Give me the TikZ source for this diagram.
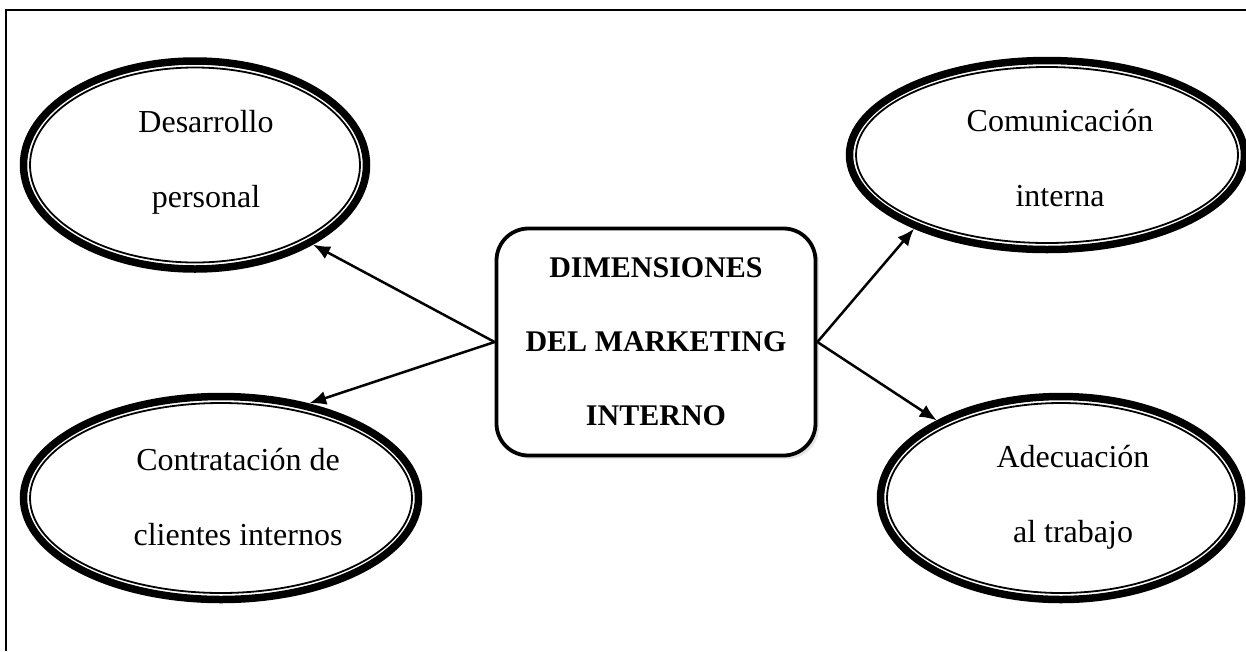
\documentclass[tikz,border=0pt]{standalone}
\usepackage{fontspec}
\setmainfont{Liberation Serif}
\usetikzlibrary{shapes.geometric,arrows.meta,shadows}

\tikzset{
	dimension/.style={ellipse, draw, line width=7.5pt, inner sep=0pt},
	ring/.style={line width=1.8pt},
	dimtext/.style={align=center, font=\fontsize{32}{75}\selectfont},
	core/.style={draw, line width=3.8pt, rounded corners=32pt, minimum width=319pt, minimum height=227pt,
		fill=white, align=center, font=\bfseries\fontsize{30}{74}\selectfont,
		drop shadow={shadow xshift=3.5pt, shadow yshift=-3.5pt, fill=gray!40}},
	link/.style={line width=2.5pt, -{Latex[length=17pt,width=14pt]}}
}

\begin{document}
\begin{tikzpicture}[x=1pt,y=-1pt]
		\useasboundingbox (0,0) rectangle (1246,651);
		
		%frame (only top and left edges shown)
		\draw[line width=2.5pt] (6,651) -- (6,10) -- (1246,10);
		
		%the four dimensions
		\node[dimension, minimum width=343pt, minimum height=208pt] (tl) at (195,165) {};
		\node[dimension, minimum width=395pt, minimum height=189pt] (tr) at (1047,155) {};
		\node[dimension, minimum width=395pt, minimum height=203pt] (bl) at (221,498) {};
		\node[dimension, minimum width=361pt, minimum height=203pt] (br) at (1061,498) {};
		
		%inner thin ring
		\foreach \n/\a/\b in {tl/165/97.5, tr/191/88, bl/191/95, br/174/95}
			\draw[ring] (\n.center) ellipse [x radius=\a pt, y radius=\b pt];
		
		\node[dimtext] (tltext) at (206,162) {Desarrollo\\personal};
		\node[dimtext] (trtext) at (1060,158) {Comunicación\\interna};
		\node[dimtext] (bltext) at (238,497) {Contratación de\\clientes internos};
		\node[dimtext] (brtext) at (1073,497) {Adecuación\\al trabajo};
		
		%centre
		\node[core] (dim) at (656,342) {DIMENSIONES\\DEL MARKETING\\INTERNO};
		
		\draw[link] (dim.west) -- (tl.-34);
		\draw[link] (dim.west) -- (bl.47);
		\draw[link] (dim.east) -- (tr.-151);
		\draw[link] (dim.east) -- (br.148);
\end{tikzpicture}
\end{document}
